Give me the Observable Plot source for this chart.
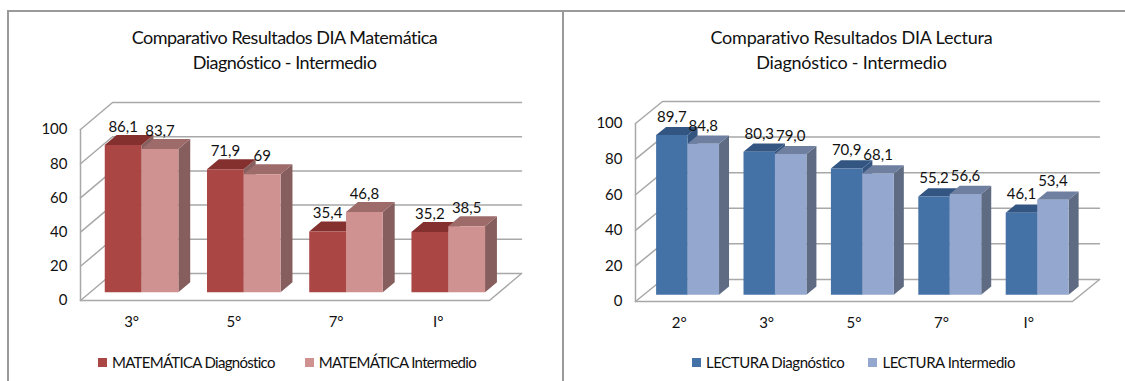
<!DOCTYPE html>
<html><head><meta charset="utf-8">
<script src="https://cdn.jsdelivr.net/npm/d3@7"></script>
<script src="https://cdn.jsdelivr.net/npm/@observablehq/plot@0.6"></script>
<style>
html,body{margin:0;padding:0;background:#fff;width:1125px;height:381px;overflow:hidden;font-family:Lato,sans-serif;color:#111}
.panel{position:absolute;box-sizing:border-box;top:10px;height:371px;border-top:2px solid #9a9a9a;border-left:2px solid #9a9a9a}
.title{position:absolute;text-align:center;font-size:18px;line-height:24.5px;white-space:pre-line}
.legend{position:absolute;top:341px;display:flex;align-items:center;font-size:15px;white-space:nowrap}
.legend i{display:inline-block;width:9px;height:9px;margin-right:5px}
svg{position:absolute;left:0;display:block}
</style></head><body>
<div id="root"></div>
<script>
const mathCats = ["3°","5°","7°","I°"];
const mathDiag = [86.1,71.9,35.4,35.2];
const mathInter = [83.7,69,46.8,38.5];
const mathLabels = ["86,1","71,9","35,4","35,2"];
const mathInterLabels = ["83,7","69","46,8","38,5"];
const readCats = ["2°","3°","5°","7°","I°"];
const readDiag = [89.7,80.3,70.9,55.2,46.1];
const readInter = [84.8,79.0,68.1,56.6,53.4];
const readLabels = ["89,7","80,3","70,9","55,2","46,1"];
const readInterLabels = ["84,8","79,0","68,1","56,6","53,4"];
const yTicks = [0,20,40,60,80,100];

function chart(o){
  const n=o.cats.length, S=o.skew, D=o.depth;
  const P=(g,v,d)=>({x:g+d*S,y:v+d*D});
  const polys=[]; let id=0;
  const poly=(c,pts)=>{id++;pts.forEach(p=>polys.push({...p,id,c}))};
  const labels=[];
  const gx=.14,bw=.36,d0=.31,d1=.68;
  o.cats.forEach((cat,i)=>{
    [[o.a,o.aL,o.ca],[o.b,o.bL,o.cb]].forEach(([vals,ls,c],k)=>{
      const l=i+gx+k*bw,r=l+bw,v=vals[i];
      poly(c[2],[P(r,0,d0),P(r,0,d1),P(r,v,d1),P(r,v,d0)]);
      poly(c[1],[P(l,v,d0),P(r,v,d0),P(r,v,d1),P(l,v,d1)]);
      poly(c[0],[P(l,0,d0),P(r,0,d0),P(r,v,d0),P(l,v,d0)]);
      labels.push({...P((l+r)/2,v,d0),t:ls[i]});
    });
  });
  const grid=[]; let gid=0;
  const seg=pts=>{gid++;pts.forEach(p=>grid.push({...p,gid}))};
  yTicks.forEach(v=>{seg([P(0,v,0),P(0,v,1),P(n,v,1)])});
  seg([P(0,0,0),P(0,100,0)]);
  seg([P(0,0,0),P(n,0,0),P(n,0,1)]);
  const svg=Plot.plot({
    width:o.width,height:o.height,
    marginLeft:o.ml,marginRight:o.width-o.ml-(o.xr),marginTop:o.mt,marginBottom:o.mb,
    style:{background:"transparent",fontFamily:"Lato,sans-serif",color:"#111"},
    x:{domain:[0,n+S],range:[o.ml,o.ml+o.xr]},
    y:{domain:[0,100+D]},
    color:{type:"identity"},
    marks:[
      Plot.line(grid,{x:"x",y:"y",z:"gid",stroke:"#a8a8a8",strokeWidth:1.5}),
      Plot.line(polys,{x:"x",y:"y",z:"id",fill:"c",stroke:"none"}),
      Plot.axisY({ticks:yTicks,tickSize:0,tickPadding:13,fontSize:15,label:null}),
      Plot.axisX({ticks:o.cats.map((c,i)=>i+.5),tickFormat:v=>o.cats[Math.round(v-.5)],tickSize:0,tickPadding:16,fontSize:15,label:null}),
      Plot.text(labels,{x:"x",y:"y",text:"t",dy:-18,fontSize:15,fill:"#111"})
    ]
  });
  return svg;
}

function panel(o){
  const p=document.createElement("div");p.className="panel";
  p.style.left=o.left+"px";p.style.width=o.pw+"px";
  const t=document.createElement("div");t.className="title";t.style.top="13px";t.style.left=0;t.style.width=o.titleW+"px";
  t.style.letterSpacing=o.titleLS+"px";
  t.textContent=o.title;p.appendChild(t);
  const s=chart(o);s.style.top=o.svgTop+"px";p.appendChild(s);
  const lg=document.createElement("div");lg.className="legend";lg.style.left=o.legLeft+"px";lg.style.letterSpacing=o.legLS+"px";
  o.leg.forEach(([txt,c],i)=>{
    const sw=document.createElement("i");sw.style.background=c;lg.appendChild(sw);
    const sp=document.createElement("span");sp.textContent=txt;if(i==0)sp.style.marginRight=o.legGap+"px";lg.appendChild(sp);
  });
  p.appendChild(lg);
  document.getElementById("root").appendChild(p);
}
const red=["#aa4643","#83302f","#85605f"], pink=["#d09291","#9e6b6b","#855e5d"];
const blue=["#4471a6","#325581","#34557f"], lblue=["#94a7ce","#6e7fa0","#5e6b82"];
panel({left:7,pw:556,titleW:551,titleLS:-0.5,title:"Comparativo Resultados DIA Matemática\nDiagnóstico - Intermedio",
  cats:mathCats,a:mathDiag,b:mathInter,aL:mathLabels,bL:mathInterLabels,ca:red,cb:pink,
  skew:32/102,depth:27/1.71,width:554,height:258,ml:71,xr:441,mt:10,mb:50,svgTop:80,
  legLeft:89,legLS:-0.7,legGap:30,leg:[["MATEMÁTICA Diagnóstico",red[0]],["MATEMÁTICA Intermedio",pink[0]]]});
panel({left:562,pw:563,titleW:575,titleLS:-0.22,title:"Comparativo Resultados DIA Lectura\nDiagnóstico - Intermedio",
  cats:readCats,a:readDiag,b:readInter,aL:readLabels,bL:readInterLabels,ca:blue,cb:lblue,
  skew:27/87.4,depth:22/1.777,width:561,height:259,ml:71,xr:464,mt:9,mb:50,svgTop:80,
  legLeft:128,legLS:-0.45,legGap:24,leg:[["LECTURA Diagnóstico",blue[0]],["LECTURA Intermedio",lblue[0]]]});
</script>
</body></html>
